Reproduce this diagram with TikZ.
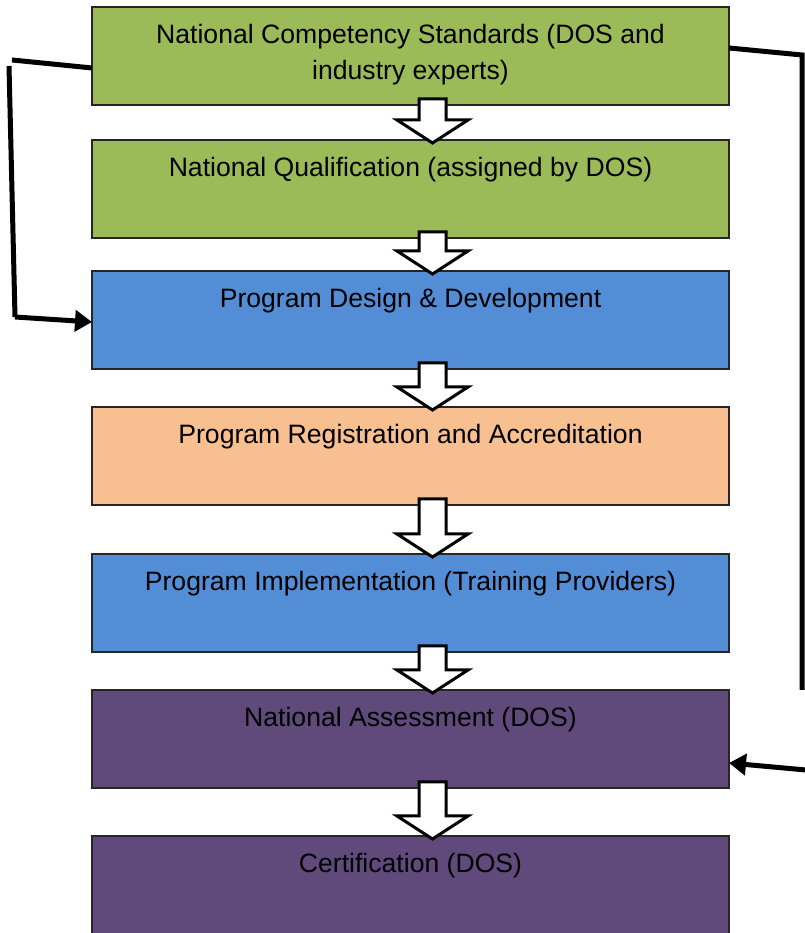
\documentclass[tikz,border=0pt]{standalone}
\usepackage{fontspec}
\setmainfont{Liberation Sans}
\usetikzlibrary{calc,arrows.meta}
\definecolor{cgreen}{HTML}{9BBB59}
\definecolor{cblue}{HTML}{538DD5}
\definecolor{corange}{HTML}{F8C090}
\definecolor{cpurple}{HTML}{604A7B}
\tikzset{
  box/.style={draw=black!85, line width=1.5pt, minimum width=637pt, minimum height=98pt, inner sep=0pt, outer sep=0pt},
  txt/.style={anchor=north, inner sep=0pt, align=center, font=\fontsize{26.6}{36}\selectfont, text=black},
  barrowstyle/.style={draw=black, fill=white, line width=3pt, line join=miter},
  conn/.style={draw=black, line width=5pt},
  tipp/.style={-{Triangle[length=17pt,width=21pt]}}
}
\newcommand\barrow[2]{\draw[barrowstyle] let \p1=(#1.south), \p2=(#2.north) in
  (419pt,\y1+6pt) -- (446pt,\y1+6pt) -- (446pt,\y2+20pt) -- (468pt,\y2+20pt) -- (432.5pt,\y2-3pt)
  -- (397pt,\y2+20pt) -- (419pt,\y2+20pt) -- cycle;}
\begin{document}
\begin{tikzpicture}[x=1pt,y=1pt]
\useasboundingbox (0,0) rectangle (804,933);
\node[box, fill=cgreen] (b1) at (410.5,877) {};
\node[box, fill=cgreen] (b2) at (410.5,744) {};
\node[box, fill=cblue] (b3) at (410.5,613) {};
\node[box, fill=corange] (b4) at (410.5,477) {};
\node[box, fill=cblue] (b5) at (410.5,330) {};
\node[box, fill=cpurple] (b6) at (410.5,194) {};
\node[box, fill=cpurple] (b7) at (410.5,48) {};
\node[txt] (t1) at ([yshift=-17pt]b1.north) {National Competency Standards (DOS and\\industry experts)};
\node[txt] (t2) at ([yshift=-17pt]b2.north) {National Qualification (assigned by DOS)};
\node[txt] (t3) at ([yshift=-17pt]b3.north) {Program Design \& Development};
\node[txt] (t4) at ([yshift=-17pt]b4.north) {Program Registration and Accreditation};
\node[txt] (t5) at ([yshift=-17pt]b5.north) {Program Implementation (Training Providers)};
\node[txt] (t6) at ([yshift=-17pt]b6.north) {National Assessment (DOS)};
\node[txt] (t7) at ([yshift=-17pt]b7.north) {Certification (DOS)};
\barrow{b1}{b2}
\barrow{b2}{b3}
\barrow{b3}{b4}
\barrow{b4}{b5}
\barrow{b5}{b6}
\barrow{b6}{b7}
% left feedback connector
\coordinate (l1) at (12,873);
\coordinate (l2) at (9,867);
\coordinate (l3) at (15,616);
\draw[conn] ([yshift=-12pt]b1.west) -- (l1);
\draw[conn] (l2) -- (l3);
\draw[conn, tipp] (l3) -- ([yshift=-2pt]b3.west);
% right feedback connector
\coordinate (r1) at (802,878);
\coordinate (r2) at (802,243);
\coordinate (r3) at (806,163);
\draw[conn, line join=miter] ([yshift=8pt]b1.east) -- (r1) -- (r2);
\draw[conn, tipp] (r3) -- ([yshift=-24pt]b6.east);
\end{tikzpicture}
\end{document}
